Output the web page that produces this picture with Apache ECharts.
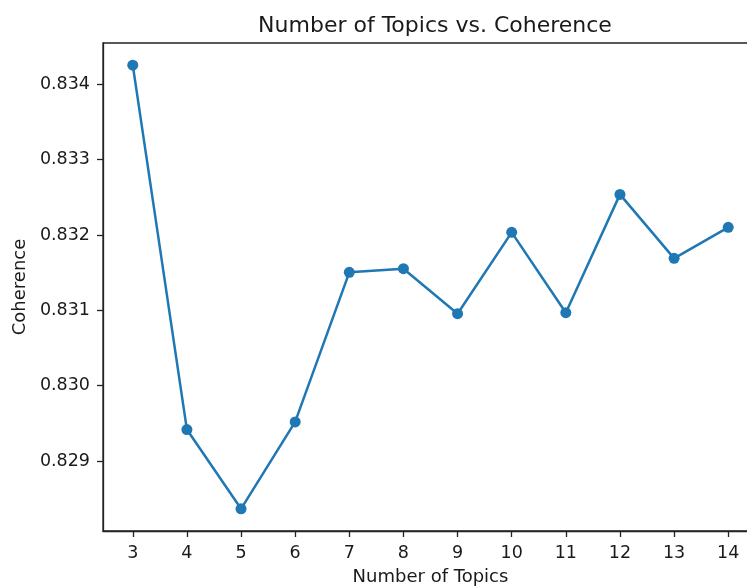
<!DOCTYPE html>
<html>
<head>
<meta charset="utf-8">
<script src="https://cdn.jsdelivr.net/npm/echarts@6/dist/echarts.min.js"></script>
<style>
  html, body { margin: 0; padding: 0; background: #fff; }
  #chart { width: 747px; height: 586px; }
</style>
</head>
<body>
<div id="chart"></div>
<script>
// Number of topics tried and the coherence score for each model
const topicCounts = [3, 4, 5, 6, 7, 8, 9, 10, 11, 12, 13, 14];
const coherence = [0.834255, 0.829418, 0.828366, 0.829520, 0.831505, 0.831553,
                   0.830956, 0.832036, 0.830969, 0.832540, 0.831691, 0.832102];
const yTicks = [0.829, 0.830, 0.831, 0.832, 0.833, 0.834];

// Axis ranges padded by 5% of the data span on each side
const xSpan = topicCounts[topicCounts.length - 1] - topicCounts[0];
const xMin = topicCounts[0] - 0.05 * xSpan;
const xMax = topicCounts[topicCounts.length - 1] + 0.05 * xSpan;
const yLo = Math.min(...coherence), yHi = Math.max(...coherence);
const yMin = yLo - 0.05 * (yHi - yLo);
const yMax = yHi + 0.05 * (yHi - yLo);

const FONT = '"DejaVu Sans", sans-serif';
const INK = '#1a1a1a';

const chart = echarts.init(document.getElementById('chart'), null, { renderer: 'canvas' });
chart.setOption({
  animation: false,
  backgroundColor: '#fff',
  title: {
    text: 'Number of Topics vs. Coherence',
    left: 430, top: 10, textAlign: 'center',
    textStyle: { fontFamily: FONT, fontSize: 22, fontWeight: 'normal', color: INK }
  },
  grid: {
    left: 103, top: 43, width: 655, height: 488,
    outerBoundsMode: 'none', containLabel: false,
    show: true, borderColor: '#222', borderWidth: 1.3, backgroundColor: 'transparent'
  },
  xAxis: {
    type: 'value', min: xMin, max: xMax,
    name: 'Number of Topics', nameLocation: 'middle', nameGap: 37,
    nameTextStyle: { fontFamily: FONT, fontSize: 18, color: INK },
    axisLine: { show: true, onZero: false, lineStyle: { color: '#222', width: 1.3 } },
    axisTick: { show: true, inside: false, length: 6, customValues: topicCounts,
                lineStyle: { color: '#222', width: 1.3 } },
    axisLabel: { margin: 13, customValues: topicCounts, fontFamily: FONT, fontSize: 17.5, color: INK,
                 formatter: v => String(v) },
    splitLine: { show: false }
  },
  yAxis: {
    type: 'value', min: yMin, max: yMax,
    name: 'Coherence', nameLocation: 'middle', nameGap: 74, nameRotate: 90,
    nameTextStyle: { fontFamily: FONT, fontSize: 18, color: INK },
    axisLine: { show: true, onZero: false, lineStyle: { color: '#222', width: 1.3 } },
    axisTick: { show: true, inside: false, length: 6, customValues: yTicks,
                lineStyle: { color: '#222', width: 1.3 } },
    axisLabel: { margin: 13, customValues: yTicks, fontFamily: FONT, fontSize: 17.5, color: INK,
                 formatter: v => v.toFixed(3) },
    splitLine: { show: false }
  },
  series: [{
    type: 'line',
    data: topicCounts.map((t, i) => [t, coherence[i]]),
    symbol: 'circle', symbolSize: 11,
    lineStyle: { color: '#1f77b4', width: 2.5 },
    itemStyle: { color: '#1f77b4' },
    clip: false
  }]
});
</script>
</body>
</html>
